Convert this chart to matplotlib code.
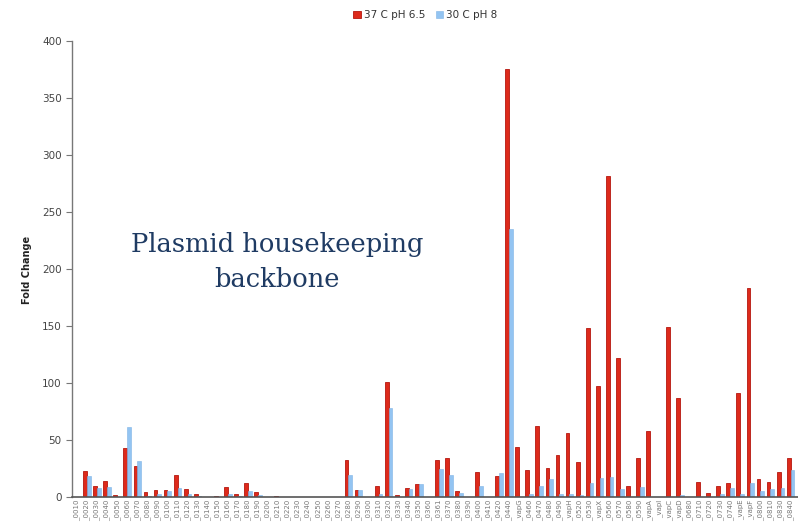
import matplotlib
matplotlib.use("Agg")
import matplotlib.pyplot as plt
import numpy as np

# gene labels along the plasmid (pVAPA locus tags)
genes = ["0010", "0020", "0030", "0040", "0050", "0060", "0070", "0080", "0090", "0100",
         "0110", "0120", "0130", "0140", "0150", "0160", "0170", "0180", "0190", "0200",
         "0210", "0220", "0230", "0240", "0250", "0260", "0270", "0280", "0290", "0300",
         "0310", "0320", "0330", "0340", "0350", "0360", "0361", "0370", "0380", "0390",
         "0400", "0410", "0420", "0440", "vapG", "0460", "0470", "0480", "0490", "vapH",
         "0520", "0530", "vapX", "0560", "0570", "0580", "0590", "vapA", "vapI", "vapC",
         "vapD", "0680", "0710", "0720", "0730", "0740", "vapE", "vapF", "0800", "0810",
         "0830", "0840"]

# fold change, 37 C pH 6.5
fc_37 = [0, 23, 10, 14, 2, 43, 27, 4, 6, 6,
         19, 7, 3, 0, 1, 9, 3, 12, 4, 0,
         1, 0, 0, 0, 0, 0, 0, 32.5, 6, 0,
         10, 101, 1.5, 8, 11, 0, 32.5, 34, 5, 0,
         22, 0, 18.5, 375, 44, 23.5, 62.5, 25.5, 36.5, 56.5,
         31, 148, 97, 282, 121.5, 10, 34.5, 58, 0, 149.5,
         86.5, 0, 13.5, 3.5, 10, 12.5, 91.5, 183, 16, 13.5,
         22, 34]

# fold change, 30 C pH 8
fc_30 = [0, 18, 8, 9, 0, 61, 32, 1, 3, 5,
         8, 3, 1, 0, 0, 3, 1, 5, 2, 0,
         0, 0, 0, 0, 0, 0, 0, 19, 6, 0,
         2.5, 78, 0, 7, 11, 0, 25, 19, 3.5, 0,
         10, 0, 21, 235, 0, 3, 10, 16, 2.5, 2.5,
         2, 12, 16.5, 17.5, 7, 0, 9, 0, 0, 0,
         2, 0, 0, 0, 3, 8, 2.5, 12.5, 5.5, 7,
         8, 23.5]

labels = ["_" + g for g in genes]
x = np.arange(len(genes))
w = 0.38

fig = plt.figure(figsize=(7.98, 5.29), dpi=100)
ax = fig.add_axes([72 / 798, 32 / 529, 726 / 798, 456 / 529])

ax.bar(x - w / 2, fc_37, width=w, color="#dd2a1b", edgecolor="#b5170f", linewidth=0.6,
       label="37 C pH 6.5")
ax.bar(x + w / 2, fc_30, width=w, color="#93c4f2", edgecolor="#7fb4e6", linewidth=0.4,
       label="30 C pH 8")

ax.set_xlim(-0.5, 71.74)
ax.set_ylim(0, 400)
ax.set_yticks(range(0, 401, 50))
ax.set_xticks(x)
ax.set_xticklabels(labels, rotation=90, fontsize=5, color="#777777")
ax.tick_params(axis="y", labelsize=7.5, labelcolor="#444444", color="#777777",
               length=4, width=0.8, direction="out")
ax.tick_params(axis="x", length=0, pad=2)

for s in ["top", "right"]:
    ax.spines[s].set_visible(False)
ax.spines["left"].set_color("#777777")
ax.spines["bottom"].set_color("#555555")
ax.spines["left"].set_linewidth(1.0)
ax.spines["bottom"].set_linewidth(1.2)

fig.text(0.034, 0.49, "Fold Change", rotation=90, fontsize=7, fontweight="bold",
         ha="center", va="center", color="#222222")

fig.legend(loc="center", bbox_to_anchor=(0.533, 0.972), ncol=2, frameon=False,
           fontsize=7.5, handlelength=0.7, handleheight=0.7, handletextpad=0.3,
           columnspacing=1.0, labelcolor="#333333")

ax.text(0.283, 0.515, "Plasmid housekeeping\nbackbone", transform=ax.transAxes,
        ha="center", va="center", fontsize=18.5, family="DejaVu Serif",
        color="#1f3b63", linespacing=1.5)

fig.savefig("out.png", dpi=100)
